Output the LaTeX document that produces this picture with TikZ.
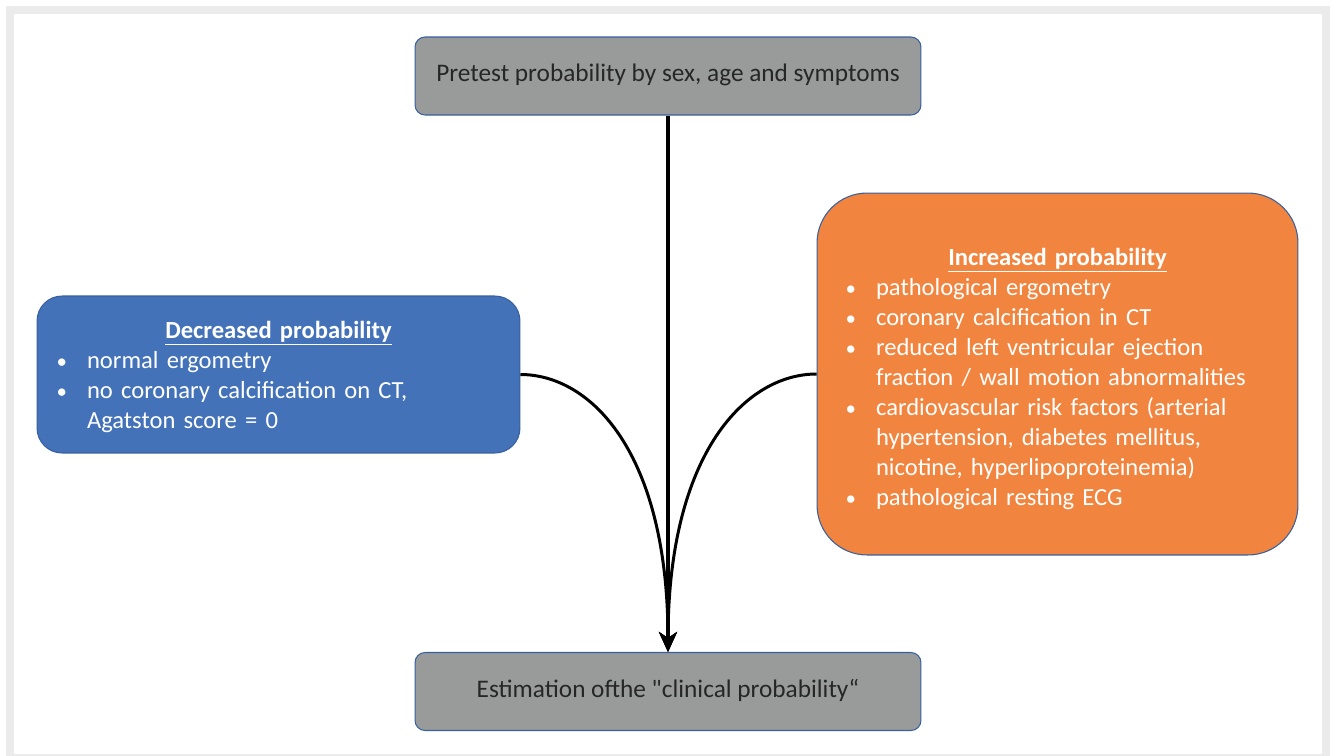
\documentclass[tikz,border=0pt]{standalone}
\usepackage{fontspec}
\setmainfont{Carlito}
\usetikzlibrary{arrows.meta}

\definecolor{framegray}{RGB}{235,235,235}
\definecolor{boxgray}{RGB}{153,155,155}
\definecolor{edgeblue}{RGB}{56,96,158}
\definecolor{decblue}{RGB}{67,114,185}
\definecolor{incorange}{RGB}{241,132,62}
\definecolor{textdark}{RGB}{38,38,38}

\tikzset{
  greybox/.style={draw=edgeblue, fill=boxgray, rounded corners=0.2cm,
    minimum width=10.12cm, minimum height=1.56cm, text=textdark, line width=0.6pt,
    font=\fontsize{14.4pt}{17.2pt}\selectfont, text depth=0.12cm},
  listbox/.style={draw=edgeblue, text=white, align=left, line width=0.6pt,
    font=\fontsize{14pt}{17.1pt}\selectfont},
  flow/.style={line width=1.7pt, -{Stealth[length=0.4cm,width=0.36cm,inset=0.12cm]}},
}
\newcommand{\listdot}{\makebox[0.58cm][l]{\hspace*{-0.03cm}\scalebox{0.85}{\textbullet}}}
\newcommand{\listgap}{\hspace*{0.58cm}}
% title line, #1 = extra room above it
\newcommand{\listhead}[2][0cm]{%
  {\centering\raisebox{0pt}[\dimexpr\height+#1\relax][0pt]{\textbf{\underline{#2}}}\par}}

\begin{document}
\begin{tikzpicture}[x=0.02cm, y=-0.02cm]
  \useasboundingbox (0,0) rectangle (1332,755);
  \draw[framegray, line width=0.16cm] (10,10) rectangle (1326,758);

  \node[greybox] (pretest) at (668,76) {Pretest probability by sex, age and symptoms};
  \node[greybox] (clinical) at (668,691.5) {Estimation ofthe \textquotedbl clinical probability“};

  \node[listbox, fill=decblue, rounded corners=0.5cm, minimum height=3.14cm,
        inner xsep=0.42cm, text width=8.82cm] (decreased) at (278.5,374.5) {%
    \listhead[0.1cm]{Decreased probability}
    \listdot normal ergometry\\
    \listdot no coronary calcification on CT,\\
    \listgap Agatston score = 0};

  \node[listbox, fill=incorange, rounded corners=1cm, minimum height=7.24cm,
        inner xsep=0.6cm, text width=8.42cm] (increased) at (1057.5,374) {%
    \listhead[0.2cm]{Increased probability}
    \listdot pathological ergometry\\
    \listdot coronary calcification in CT\\
    \listdot reduced left ventricular ejection\\
    \listgap fraction / wall motion abnormalities\\
    \listdot cardiovascular risk factors (arterial\\
    \listgap hypertension, diabetes mellitus,\\
    \listgap nicotine, hyperlipoproteinemia)\\
    \listdot pathological resting ECG};

  \draw[flow, line width=2.5pt] (pretest) -- (clinical);
  \draw[flow] (decreased.east) .. controls +(70,0) and +(0,-200) .. (clinical.north);
  \draw[flow] (increased.west) .. controls +(-70,0) and +(0,-200) .. (clinical.north);
\end{tikzpicture}
\end{document}
